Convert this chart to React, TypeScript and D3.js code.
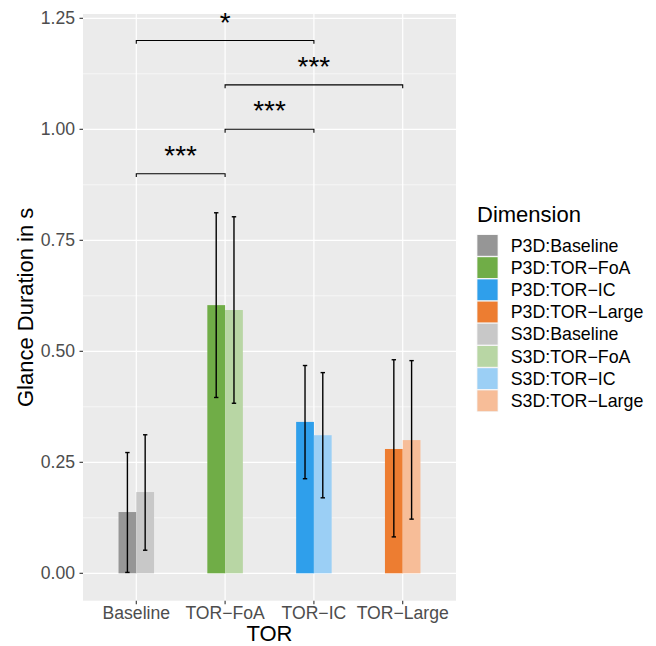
import React from "react";
import * as d3 from "d3";

const categories = ["Baseline", "TOR−FoA", "TOR−IC", "TOR−Large"];
const displays = ["P3D", "S3D"];

// mean glance duration per TOR condition
const p3dMean = [0.138, 0.604, 0.341, 0.28];
const s3dMean = [0.183, 0.593, 0.311, 0.3];
// error bar ends
const p3dLow = [0.002, 0.396, 0.213, 0.082];
const p3dHigh = [0.272, 0.812, 0.468, 0.481];
const s3dLow = [0.052, 0.383, 0.17, 0.122];
const s3dHigh = [0.312, 0.803, 0.452, 0.479];

const p3dColors = ["#969696", "#70AD47", "#2F9FEB", "#ED7D31"];
const s3dColors = ["#C8C8C8", "#B8D6A4", "#9BCFF5", "#F7BD98"];

const yTicks = [0, 0.25, 0.5, 0.75, 1, 1.25];
const yMinor = [0.125, 0.375, 0.625, 0.875, 1.125];

// significance brackets
const sigFrom = ["Baseline", "TOR−FoA", "TOR−FoA", "Baseline"];
const sigTo = ["TOR−IC", "TOR−Large", "TOR−IC", "TOR−FoA"];
const sigY = [1.2, 1.1, 1.0, 0.9];
const sigLabel = ["*", "***", "***", "***"];

const font = "'Liberation Sans', Arial, sans-serif";

const App: React.FC = () => {
  const width = 656;
  const height = 646;
  const left = 83;
  const right = 456;
  const top = 14;
  const bottom = 600.7;

  const x = d3.scalePoint<string>().domain(categories).range([left, right]).padding(0.6);
  const y = d3.scaleLinear().domain([-0.0617, 1.2597]).range([bottom, top]);
  const step = x.step();
  const barW = (step * 0.4) / 2;
  const tip = 0.0075;

  const series = displays.map((d, si) => ({
    name: d,
    mean: si === 0 ? p3dMean : s3dMean,
    low: si === 0 ? p3dLow : s3dLow,
    high: si === 0 ? p3dHigh : s3dHigh,
    colors: si === 0 ? p3dColors : s3dColors,
  }));

  const legendItems = series.flatMap(s =>
    categories.map((c, i) => ({ label: `${s.name}:${c}`, color: s.colors[i] }))
  );

  return (
    <svg width={width} height={height} style={{ position: "absolute", left: 0, top: 0 }} fontFamily={font}>
      <rect width={width} height={height} fill="#fff" />
      <rect x={left} y={top} width={right - left} height={bottom - top} fill="#EBEBEB" />
      {yMinor.map(t => (
        <line key={"m" + t} x1={left} x2={right} y1={y(t)} y2={y(t)} stroke="#fff" strokeWidth={0.6} />
      ))}
      {yTicks.map(t => (
        <line key={"g" + t} x1={left} x2={right} y1={y(t)} y2={y(t)} stroke="#fff" strokeWidth={1.2} />
      ))}
      {categories.map(c => (
        <line key={"v" + c} x1={x(c)} x2={x(c)} y1={top} y2={bottom} stroke="#fff" strokeWidth={1.2} />
      ))}

      {series.map((s, si) =>
        categories.map((c, i) => (
          <rect
            key={s.name + c}
            x={(x(c) as number) - barW + si * barW}
            y={y(s.mean[i])}
            width={barW}
            height={y(0) - y(s.mean[i])}
            fill={s.colors[i]}
          />
        ))
      )}

      {series.map((s, si) =>
        categories.map((c, i) => {
          const cx = (x(c) as number) - barW / 2 + si * barW;
          return (
            <g key={"e" + s.name + c} stroke="#000" strokeWidth={1.4}>
              <line x1={cx} x2={cx} y1={y(s.low[i])} y2={y(s.high[i])} />
              <line x1={cx - 2.2} x2={cx + 2.2} y1={y(s.low[i])} y2={y(s.low[i])} />
              <line x1={cx - 2.2} x2={cx + 2.2} y1={y(s.high[i])} y2={y(s.high[i])} />
            </g>
          );
        })
      )}

      {sigY.map((v, i) => {
        const x1 = x(sigFrom[i]) as number;
        const x2 = x(sigTo[i]) as number;
        const yy = y(v);
        const yt = y(v - tip);
        return (
          <g key={"s" + i}>
            <path d={`M${x1},${yt}V${yy}H${x2}V${yt}`} fill="none" stroke="#000" strokeWidth={1.1} />
            <text x={(x1 + x2) / 2} y={yy - 9} textAnchor="middle" fontSize={28} fill="#000">
              {sigLabel[i]}
            </text>
          </g>
        );
      })}

      {yTicks.map(t => (
        <g key={"yt" + t}>
          <line x1={left - 3.5} x2={left} y1={y(t)} y2={y(t)} stroke="#333" strokeWidth={1.1} />
          <text x={left - 8} y={y(t)} dy="0.35em" textAnchor="end" fontSize={17.6} fill="#4D4D4D">
            {d3.format(".2f")(t)}
          </text>
        </g>
      ))}
      {categories.map(c => (
        <g key={"xt" + c}>
          <line x1={x(c)} x2={x(c)} y1={bottom} y2={bottom + 3.5} stroke="#333" strokeWidth={1.1} />
          <text x={x(c)} y={619} textAnchor="middle" fontSize={17.6} fill="#4D4D4D">
            {c}
          </text>
        </g>
      ))}

      <text x={(left + right) / 2} y={641} textAnchor="middle" fontSize={22} fill="#000">
        TOR
      </text>
      <text
        transform={`translate(32.5,${(top + bottom) / 2}) rotate(-90)`}
        textAnchor="middle"
        fontSize={22}
        fill="#000"
      >
        Glance Duration in s
      </text>

      <text x={477} y={222} fontSize={22} fill="#000">
        Dimension
      </text>
      {legendItems.map((d, i) => {
        const ky = 234.3 + i * 22.2;
        return (
          <g key={"l" + d.label}>
            <rect x={476.7} y={ky} width={21.6} height={22.2} fill="#F2F2F2" />
            <rect x={477.4} y={ky + 0.7} width={20.2} height={20.8} fill={d.color} />
            <text x={510.7} y={ky + 11.1} dy="0.35em" fontSize={17.8} fill="#000">
              {d.label}
            </text>
          </g>
        );
      })}
    </svg>
  );
};

export default App;
